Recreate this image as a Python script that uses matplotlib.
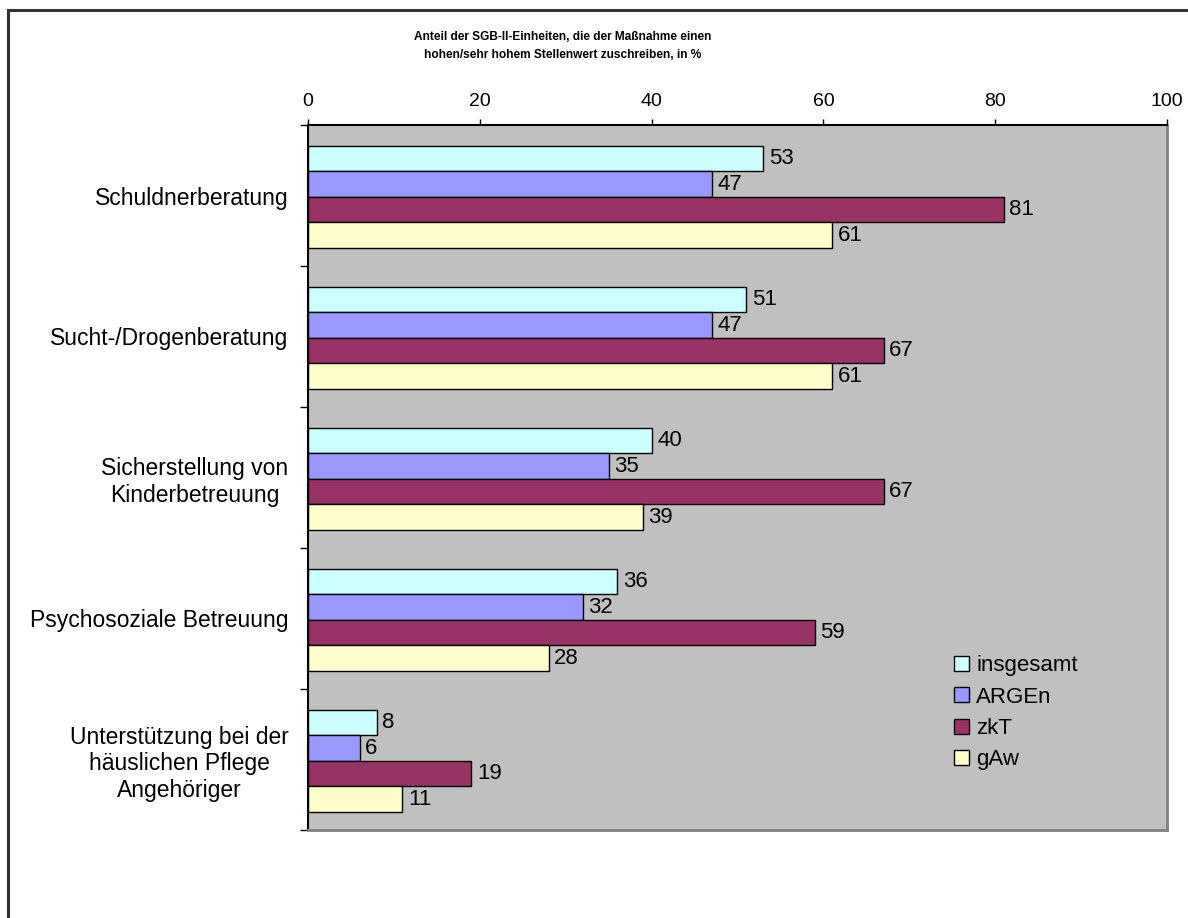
import matplotlib
matplotlib.use('Agg')
import matplotlib.pyplot as plt
from matplotlib import font_manager
from matplotlib.patches import Rectangle
import numpy as np

plt.rcParams['font.family'] = ['Liberation Sans', 'DejaVu Sans']

# survey data (share in %)
categories = ['Schuldnerberatung', 'Sucht-/Drogenberatung',
              'Sicherstellung von\nKinderbetreuung', 'Psychosoziale Betreuung',
              'Unterstützung bei der\nhäuslichen Pflege\nAngehöriger']
series = ['insgesamt', 'ARGEn', 'zkT', 'gAw']
insgesamt = [53, 51, 40, 36, 8]
argen = [47, 47, 35, 32, 6]
zkt = [81, 67, 67, 59, 19]
gaw = [61, 61, 39, 28, 11]
colors = ['#CCFFFF', '#9999FF', '#993366', '#FFFFCC']
x_ticks = [0, 20, 40, 60, 80, 100]

fig = plt.figure(figsize=(11.88, 9.18), dpi=100)
ax = fig.add_axes([308/1188, 1-830/918, (1167-308)/1188, (830-125)/918])
ax.set_facecolor('#C0C0C0')

y = np.arange(len(categories))
h = 0.181
for i, (name, vals) in enumerate(zip(series, [insgesamt, argen, zkt, gaw])):
    pos = y + (i - 1.5) * h + 0.01
    ax.barh(pos, vals, height=h, color=colors[i], edgecolor='black',
            linewidth=1.0, label=name)
    for p, v in zip(pos, vals):
        ax.annotate(str(v), (v, p), xytext=(4, 0), textcoords='offset points',
                    va='center', ha='left', fontsize=16)

ax.set_xlim(0, 100)
ax.set_ylim(len(categories) - 0.5, -0.5)

ax.xaxis.tick_top()
ax.set_xticks(x_ticks)
ax.tick_params(axis='x', length=4, width=1, pad=7, labelsize=14)

ax.set_yticks(y)
ax.set_yticklabels(categories, fontsize=16.5, ha='right', multialignment='center')
ax.set_yticks(np.arange(len(categories) + 1) - 0.5, minor=True)
ax.tick_params(axis='y', which='major', length=0, pad=14)
ax.tick_params(axis='y', which='minor', length=6, width=1)

ax.spines['top'].set_linewidth(1.5)
ax.spines['left'].set_linewidth(1.5)
for s in ('right', 'bottom'):
    ax.spines[s].set_color('#808080')
    ax.spines[s].set_linewidth(2)

ax.legend(loc='upper left', bbox_to_anchor=(943/1188, 1-644/918),
          bbox_transform=fig.transFigure, frameon=False, fontsize=16,
          handlelength=0.65, handleheight=0.65, handletextpad=0.35,
          labelspacing=0.47, borderpad=0)

# title, narrow bold face if available
names = {f.name for f in font_manager.fontManager.ttflist}
if 'Liberation Sans Narrow' in names:
    tfont, tsize = 'Liberation Sans Narrow', 9.5
else:
    tfont, tsize = 'Liberation Sans', 8.6
fig.text(563/1188, 1-46/918,
         'Anteil der SGB-II-Einheiten, die der Maßnahme einen\n'
         'hohen/sehr hohem Stellenwert zuschreiben, in %',
         ha='center', va='center', fontsize=tsize, fontweight='bold',
         family=[tfont, 'DejaVu Sans'], linespacing=1.75)

# outer frame
fig.patches.append(Rectangle((8/1188, -0.5), 2, 0.5 + 1 - 10/918,
                             transform=fig.transFigure, fill=False,
                             edgecolor='#333333', linewidth=2.2))

fig.savefig('out.png', dpi=100, facecolor='white')
